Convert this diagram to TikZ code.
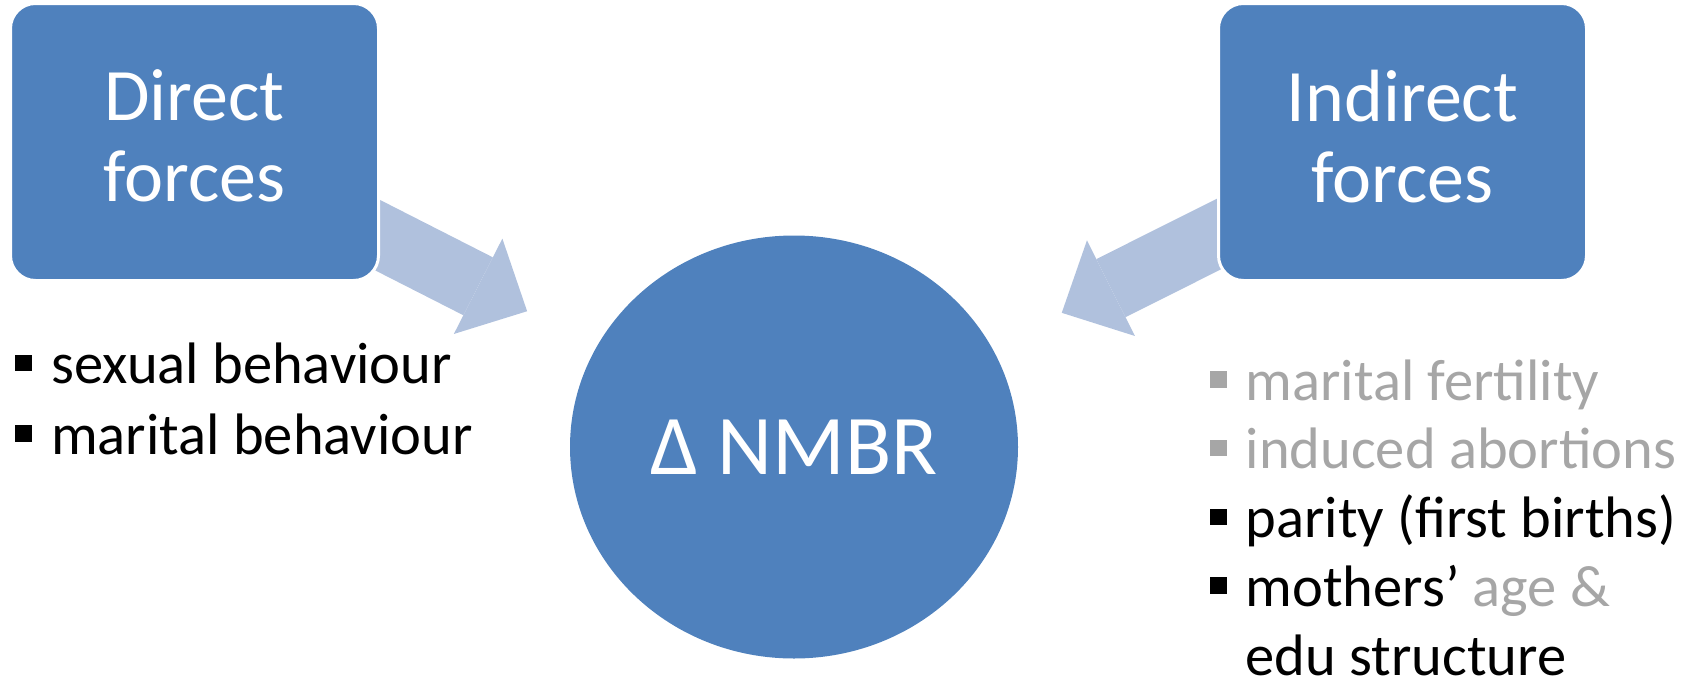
\documentclass[tikz,border=0pt]{standalone}
\usepackage{fontspec}
\setmainfont{Carlito}
\usetikzlibrary{shapes.geometric, arrows.meta, backgrounds}
\definecolor{smartblue}{HTML}{4F81BD}
\definecolor{arrowblue}{HTML}{B0C1DD}
\definecolor{softgrey}{HTML}{A6A6A6}
\newcommand{\sqbullet}{\makebox[36pt][l]{\rule[12.5pt]{17pt}{16.5pt}}}

\begin{document}
\begin{tikzpicture}[x=1pt, y=-1pt,
  forcebox/.style={rectangle, rounded corners=25pt, fill=smartblue, draw=white, line width=3pt,
    minimum width=368pt, minimum height=277pt, inner sep=0pt, align=center, text=white,
    font=\fontsize{74}{81}\selectfont,
    execute at begin node=\rule{0pt}{62pt}, execute at end node=\rule[-12pt]{0pt}{12pt}},
  forcearrow/.style={draw=arrowblue, line width=65pt, shorten >=78pt,
    -{Triangle[length=55pt, width=107pt, line width=0pt]}},
  item/.style={anchor=base west, inner sep=0pt, font=\fontsize{58.5}{58.5}\selectfont}]
\useasboundingbox (0,0) rectangle (1692,683);

\node[forcebox] (direct) at (194.5,142) {Direct\\forces};
\node[forcebox] (indirect) at (1402.5,142) {Indirect\\forces};
\node[ellipse, fill=smartblue, minimum width=448pt, minimum height=423pt, inner sep=0pt,
  text=white, font=\fontsize{85}{85}\selectfont] (nmbr) at (794,447) {Δ NMBR};

\begin{scope}[on background layer]
\draw[forcearrow] (direct.center) -- (nmbr);
\draw[forcearrow] (indirect.center) -- (nmbr);
\end{scope}

% bullet lists
\foreach \n/\y/\txt in {sb/383.5/sexual behaviour, mb/454/marital behaviour}
  \node[item] (\n) at (15,\y) {\sqbullet\txt};
\foreach \n/\y/\col/\txt in {mf/400/softgrey/marital fertility, ia/468.8/softgrey/induced abortions,
  pf/537.6/black/parity (first births), ma/606.4/black/{mothers’ \textcolor{softgrey}{age \&}}}
  \node[item, text=\col] (\n) at (1209.5,\y) {\sqbullet\txt};
\node[item] (edu) at (1245.5,675.2) {edu structure};
\end{tikzpicture}
\end{document}
